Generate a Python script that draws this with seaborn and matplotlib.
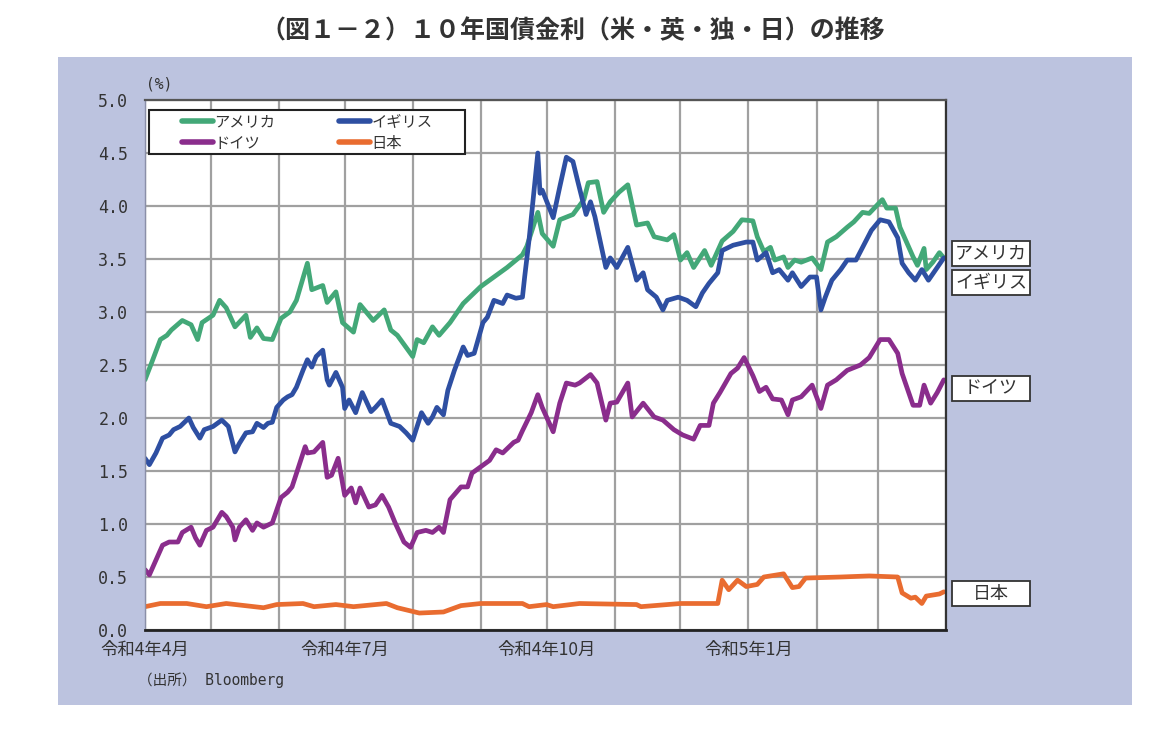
import pandas as pd
import matplotlib
matplotlib.use("Agg")
import matplotlib.pyplot as plt
import matplotlib.dates as mdates
from matplotlib.patches import Rectangle
from matplotlib.lines import Line2D
import seaborn as sns

# ---------------- data (days counted from 2022-04-01) ----------------
START = "2022-04-01"

us_days = [0, 3, 7, 10, 12, 17, 21, 24, 26, 31, 34, 37, 41, 46, 48, 51, 54, 58, 62, 66,
           69, 74, 76, 81, 83, 87, 90, 95, 98, 104, 109, 112, 115, 122, 124, 127, 131, 134, 139, 145,
           153, 159, 165, 172, 174, 179, 181, 186, 189, 195, 200, 202, 206, 209, 212, 216, 220, 224, 229, 232,
           238, 241, 244, 247, 250, 255, 258, 263, 268, 272, 277, 279, 282, 285, 287, 291, 293, 296, 299, 304,
           308, 311, 315, 320, 323, 327, 330, 336, 338, 342, 344, 347, 350, 352, 355, 356, 359, 362, 364]
us_yield = [2.36, 2.52, 2.74, 2.78, 2.83, 2.92, 2.88, 2.74, 2.90, 2.97, 3.11, 3.04, 2.86, 2.97, 2.76, 2.85, 2.75, 2.74, 2.94, 3.00,
            3.11, 3.46, 3.21, 3.25, 3.09, 3.19, 2.90, 2.81, 3.07, 2.92, 3.02, 2.83, 2.78, 2.58, 2.74, 2.71, 2.86, 2.78, 2.90, 3.08,
            3.24, 3.33, 3.42, 3.54, 3.62, 3.94, 3.74, 3.62, 3.87, 3.92, 4.06, 4.22, 4.23, 3.94, 4.04, 4.13, 4.20, 3.82, 3.84, 3.71,
            3.68, 3.73, 3.49, 3.56, 3.42, 3.58, 3.44, 3.67, 3.76, 3.87, 3.86, 3.71, 3.57, 3.61, 3.49, 3.52, 3.42, 3.49, 3.47, 3.51,
            3.40, 3.66, 3.71, 3.80, 3.85, 3.94, 3.93, 4.06, 3.98, 3.98, 3.80, 3.66, 3.52, 3.44, 3.60, 3.40, 3.47, 3.56, 3.51]

uk_days = [0, 2, 5, 8, 11, 13, 16, 20, 22, 25, 27, 31, 35, 38, 41, 43, 46, 49, 51, 54,
           56, 58, 60, 63, 65, 67, 69, 72, 74, 76, 78, 81, 83, 84, 87, 90, 91, 93, 96, 99,
           103, 105, 108, 112, 116, 119, 122, 124, 126, 129, 131, 133, 136, 138, 141, 145, 147, 150, 154, 156,
           159, 163, 165, 169, 172, 173, 175, 179, 180, 181, 186, 189, 192, 195, 197, 201, 203, 205, 210, 212,
           215, 220, 224, 227, 229, 233, 236, 238, 243, 247, 251, 254, 257, 261, 263, 268, 274, 277, 279, 283,
           286, 289, 293, 295, 299, 303, 306, 308, 310, 313, 317, 320, 324, 327, 331, 335, 339, 343, 345, 348,
           351, 354, 357, 361, 364]
uk_yield = [1.62, 1.56, 1.67, 1.81, 1.84, 1.89, 1.92, 2.00, 1.91, 1.81, 1.89, 1.92, 1.98, 1.92, 1.68, 1.76, 1.86, 1.87, 1.95, 1.91,
            1.95, 1.96, 2.10, 2.17, 2.20, 2.22, 2.29, 2.45, 2.55, 2.48, 2.58, 2.64, 2.36, 2.31, 2.43, 2.29, 2.09, 2.17, 2.05, 2.24,
            2.06, 2.10, 2.17, 1.95, 1.92, 1.86, 1.79, 1.92, 2.05, 1.95, 2.01, 2.10, 2.03, 2.26, 2.45, 2.67, 2.59, 2.61, 2.90, 2.95,
            3.11, 3.08, 3.16, 3.13, 3.14, 3.33, 3.68, 4.50, 4.12, 4.15, 3.89, 4.18, 4.46, 4.42, 4.25, 3.92, 4.04, 3.90, 3.42, 3.51,
            3.42, 3.61, 3.30, 3.37, 3.21, 3.14, 3.02, 3.11, 3.14, 3.11, 3.05, 3.18, 3.27, 3.37, 3.58, 3.63, 3.66, 3.66, 3.49, 3.56,
            3.37, 3.40, 3.30, 3.37, 3.24, 3.33, 3.33, 3.02, 3.14, 3.30, 3.40, 3.49, 3.49, 3.61, 3.77, 3.87, 3.85, 3.70, 3.46, 3.37,
            3.30, 3.40, 3.30, 3.42, 3.51]

de_days = [0, 2, 5, 8, 11, 15, 17, 21, 23, 25, 28, 31, 35, 37, 40, 41, 43, 46, 49, 51,
           54, 58, 60, 62, 65, 67, 70, 73, 74, 77, 81, 83, 85, 88, 91, 94, 96, 98, 102, 105,
           108, 111, 114, 118, 121, 124, 128, 131, 134, 136, 139, 144, 147, 149, 153, 157, 160, 163, 168, 170,
           172, 176, 179, 181, 186, 189, 192, 196, 198, 203, 206, 210, 212, 215, 220, 222, 227, 232, 236, 241,
           245, 250, 253, 257, 259, 262, 267, 270, 273, 277, 280, 283, 286, 290, 293, 295, 299, 304, 308, 311,
           315, 320, 326, 330, 335, 339, 343, 345, 348, 350, 353, 355, 358, 361, 364]
de_yield = [0.57, 0.52, 0.66, 0.80, 0.83, 0.83, 0.92, 0.97, 0.87, 0.80, 0.94, 0.97, 1.11, 1.07, 0.97, 0.85, 0.97, 1.04, 0.94, 1.01,
            0.97, 1.01, 1.13, 1.25, 1.30, 1.35, 1.54, 1.73, 1.67, 1.68, 1.77, 1.44, 1.46, 1.62, 1.27, 1.34, 1.20, 1.34, 1.16, 1.18,
            1.27, 1.16, 1.01, 0.83, 0.78, 0.92, 0.94, 0.92, 0.97, 0.92, 1.23, 1.35, 1.35, 1.48, 1.54, 1.60, 1.70, 1.67, 1.77, 1.79,
            1.88, 2.05, 2.22, 2.10, 1.87, 2.14, 2.33, 2.31, 2.33, 2.41, 2.33, 1.98, 2.14, 2.15, 2.33, 2.01, 2.14, 2.01, 1.98, 1.89,
            1.84, 1.80, 1.93, 1.93, 2.14, 2.24, 2.42, 2.47, 2.57, 2.40, 2.25, 2.29, 2.18, 2.17, 2.03, 2.17, 2.20, 2.31, 2.09, 2.31,
            2.36, 2.45, 2.50, 2.57, 2.74, 2.74, 2.61, 2.42, 2.24, 2.12, 2.12, 2.31, 2.14, 2.24, 2.36]

jp_days = [0, 7, 19, 28, 37, 54, 60, 72, 77, 87, 95, 110, 115, 125, 136, 144, 153, 172, 175, 183,
           186, 198, 224, 226, 244, 261, 263, 266, 270, 274, 279, 282, 291, 295, 298, 301, 317, 330, 343, 345,
           349, 351, 354, 356, 362, 364]
jp_yield = [0.22, 0.25, 0.25, 0.22, 0.25, 0.21, 0.24, 0.25, 0.22, 0.24, 0.22, 0.25, 0.21, 0.16, 0.17, 0.23, 0.25, 0.25, 0.22, 0.24,
            0.22, 0.25, 0.24, 0.22, 0.25, 0.25, 0.47, 0.38, 0.47, 0.41, 0.43, 0.50, 0.53, 0.40, 0.41, 0.49, 0.50, 0.51, 0.50, 0.35,
            0.30, 0.31, 0.25, 0.32, 0.34, 0.36]

series_names = ["アメリカ", "イギリス", "ドイツ", "日本"]
series_colors = {"アメリカ": "#43a878", "イギリス": "#2e4fa2", "ドイツ": "#8a2d8c", "日本": "#e96c30"}

x_tick_dates = ["2022-04-01", "2022-07-01", "2022-10-01", "2023-01-01", "2023-04-01"]
x_tick_labels = ["令和4年4月", "令和4年7月", "令和4年10月", "令和5年1月", ""]
y_ticks = [0.0, 0.5, 1.0, 1.5, 2.0, 2.5, 3.0, 3.5, 4.0, 4.5, 5.0]

title = "（図１－２）１０年国債金利（米・英・独・日）の推移"
unit_label = "(%)"
source_label = "（出所） Bloomberg"

# right-hand name tags: (name, y position of tag)
tag_positions = [("アメリカ", 3.556), ("イギリス", 3.274), ("ドイツ", 2.283), ("日本", 0.34)]

# ---------------- build frame ----------------
start = pd.Timestamp(START)
frames = []
for name, d, v in zip(series_names, [us_days, uk_days, de_days, jp_days],
                      [us_yield, uk_yield, de_yield, jp_yield]):
    frames.append(pd.DataFrame({"date": start + pd.to_timedelta(d, unit="D"),
                                "yield": v, "country": name}))
df = pd.concat(frames, ignore_index=True)

# ---------------- style ----------------
sns.set_style("white")
plt.rcParams["font.family"] = ["Noto Sans CJK JP", "DejaVu Sans"]

fig = plt.figure(figsize=(11.72, 7.30), dpi=100)
fig.patch.set_facecolor("white")
fig.patches.append(Rectangle((58 / 1172, 1 - 705 / 730), (1132 - 58) / 1172, (705 - 57) / 730,
                             transform=fig.transFigure, facecolor="#bcc3df",
                             edgecolor="none", zorder=-10))

ax = fig.add_axes([145 / 1172, 1 - 630 / 730, (946 - 145) / 1172, (630 - 100) / 730])
ax.set_facecolor("white")
ax.set_zorder(1)

sns.lineplot(data=df, x="date", y="yield", hue="country", hue_order=series_names,
             palette=series_colors, estimator=None, linewidth=3.4, legend=False, ax=ax)
for ln in ax.lines:
    ln.set_solid_joinstyle("round")
    ln.set_solid_capstyle("round")

ax.set_xlim(pd.Timestamp(x_tick_dates[0]), pd.Timestamp(x_tick_dates[-1]))
ax.set_ylim(y_ticks[0], y_ticks[-1])

ax.set_xticks(pd.to_datetime(x_tick_dates))
ax.set_xticklabels(x_tick_labels, fontsize=12.5, color="#333333")
ax.xaxis.set_minor_locator(mdates.MonthLocator())

ax.set_yticks(y_ticks)
ax.set_yticklabels([f"{v:.1f}" for v in y_ticks], family="DejaVu Sans Mono",
                   fontsize=12, color="#333333")

ax.grid(True, which="both", axis="x", color="#a0a0a0", linewidth=1.6)
ax.grid(True, which="major", axis="y", color="#a0a0a0", linewidth=1.6)
ax.set_axisbelow(True)

ax.tick_params(axis="x", which="minor", length=0)
ax.tick_params(axis="x", which="major", length=5, width=1.3, color="#222222", pad=3)
ax.tick_params(axis="y", length=0, pad=12)
ax.set_xlabel("")
ax.set_ylabel("")

for side, col, lw in [("bottom", "#222222", 2.0), ("right", "#333333", 1.6),
                      ("top", "#555555", 1.6), ("left", "#8a8fa8", 1.0)]:
    ax.spines[side].set_visible(True)
    ax.spines[side].set_color(col)
    ax.spines[side].set_linewidth(lw)

# legend (frame drawn separately so it matches the reference box)
ax.add_patch(Rectangle((4 / 801, (630 - 154) / 530), (465 - 149) / 801, (154 - 110) / 530,
                       transform=ax.transAxes, facecolor="white", edgecolor="#222222",
                       linewidth=1.5, zorder=3))
order = ["アメリカ", "ドイツ", "イギリス", "日本"]
handles = [Line2D([], [], color=series_colors[n], linewidth=4, solid_capstyle="round") for n in order]
leg = ax.legend(handles, order, ncol=2, frameon=False, loc="upper left",
                bbox_to_anchor=(37 / 801, (630 - 113) / 530), borderpad=0, borderaxespad=0,
                handlelength=2.0, handletextpad=0.1, columnspacing=4.2, labelspacing=0.3,
                prop={"family": "Noto Sans CJK JP", "size": 11})
leg.set_zorder(4)
for t in leg.get_texts():
    t.set_color("#333333")

# right-hand name tags
tag_w = 78 / 801
tag_h = 25 / 106
for name, yv in tag_positions:
    ax.add_patch(Rectangle((1 + 6 / 801, yv - tag_h / 2), tag_w, tag_h,
                           transform=ax.get_yaxis_transform(), facecolor="white",
                           edgecolor="#333333", linewidth=1.3, clip_on=False, zorder=5))
    ax.text(1 + 6 / 801 + tag_w / 2, yv, name, transform=ax.get_yaxis_transform(),
            ha="center", va="center", fontsize=13, color="#333333", zorder=6)

# texts
fig.text(573 / 1172, 1 - 31 / 730, title, ha="center", va="center", fontsize=18,
         fontweight="bold", color="#333333")
fig.text(146 / 1172, 1 - 84 / 730, unit_label, ha="left", va="center", fontsize=10.5,
         family=["DejaVu Sans Mono", "Noto Sans CJK JP"], color="#333333")
fig.text(138 / 1172, 1 - 680 / 730, source_label, ha="left", va="center", fontsize=10.5,
         family=["DejaVu Sans Mono", "Noto Sans CJK JP"], color="#333333")

fig.savefig("out.png", dpi=100, facecolor="white")
